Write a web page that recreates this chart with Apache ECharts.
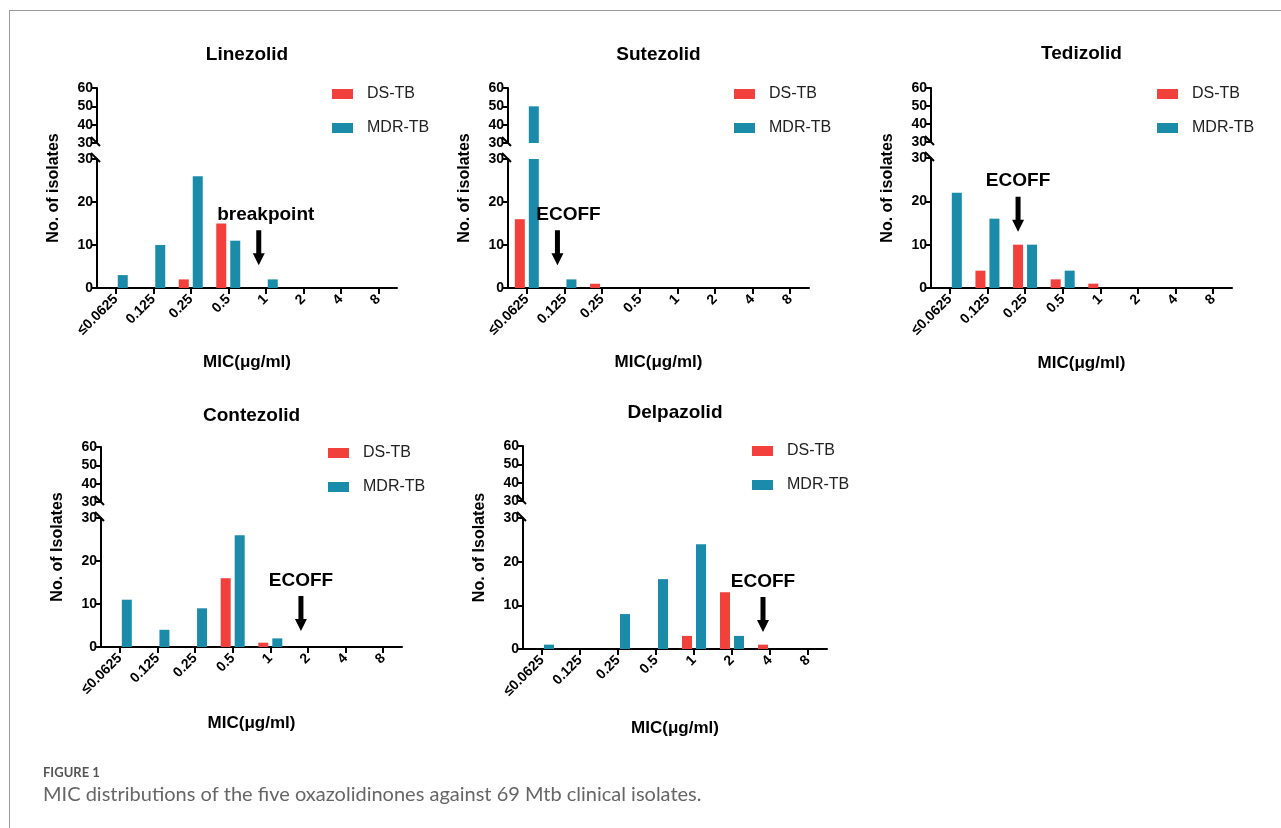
<!DOCTYPE html>
<html>
<head>
<meta charset="utf-8">
<script src="https://cdn.jsdelivr.net/npm/echarts@6/dist/echarts.min.js"></script>
<style>
    html, body { margin: 0; padding: 0; background: #fff; }
    #chart { width: 1281px; height: 828px; }
    .frame {
        position: absolute; left: 9px; top: 10px; right: 0; bottom: 0;
        border-top: 1px solid #999; border-left: 1px solid #999;
        pointer-events: none;
    }
</style>
</head>
<body>
<div id="chart"></div>
<div class="frame"></div>
<script>
    // MIC categories (x axis)
    const categories = ['≤0.0625', '0.125', '0.25', '0.5', '1', '2', '4', '8'];
    const drugs = ['Linezolid', 'Sutezolid', 'Tedizolid', 'Contezolid', 'Delpazolid'];

    // number of isolates per MIC
    const dsLinezolid = [0, 0, 2, 15, 0, 0, 0, 0];
    const mdrLinezolid = [3, 10, 26, 11, 2, 0, 0, 0];
    const dsSutezolid = [16, 0, 1, 0, 0, 0, 0, 0];
    const mdrSutezolid = [50, 2, 0, 0, 0, 0, 0, 0];
    const dsTedizolid = [0, 4, 10, 2, 1, 0, 0, 0];
    const mdrTedizolid = [22, 16, 10, 4, 0, 0, 0, 0];
    const dsContezolid = [0, 0, 0, 16, 1, 0, 0, 0];
    const mdrContezolid = [11, 4, 9, 26, 2, 0, 0, 0];
    const dsDelpazolid = [0, 0, 0, 0, 3, 13, 1, 0];
    const mdrDelpazolid = [1, 0, 8, 16, 24, 3, 0, 0];

    // broken y axis: lower part 0-30, upper part 30-60
    const lowerRange = [0, 30];
    const upperRange = [30, 60];
    const yStep = 10;

    // cut-off arrows
    const cutoffCats = ['1', '0.125', '0.25', '2', '4'];
    const cutoffNames = ['breakpoint', 'ECOFF', 'ECOFF', 'ECOFF', 'ECOFF'];
    const cutoffTips = [5.3, 5.3, 13, 3.7, 3.9];

    const yNames = ['No. of isolates', 'No. of isolates', 'No. of isolates', 'No. of Isolates', 'No. of Isolates'];
    const xName = 'MIC(μg/ml)';
    const seriesNames = ['DS-TB', 'MDR-TB'];

    const dsData = [dsLinezolid, dsSutezolid, dsTedizolid, dsContezolid, dsDelpazolid];
    const mdrData = [mdrLinezolid, mdrSutezolid, mdrTedizolid, mdrContezolid, mdrDelpazolid];

    // panel layout (pixels)
    const panels = [
        {left: 97, right: 397, upTop: 88, upBot: 143, lowTop: 159, lowBot: 288, legX: 332, legY: 86, titleY: 45, nameGap: 66, labelDx: 7},
        {left: 508, right: 809, upTop: 88, upBot: 143, lowTop: 159, lowBot: 288, legX: 734, legY: 86, titleY: 45, nameGap: 66, labelDx: 11},
        {left: 931, right: 1232, upTop: 88, upBot: 142, lowTop: 158, lowBot: 288, legX: 1157, legY: 86, titleY: 44, nameGap: 67, labelDx: 0},
        {left: 101, right: 402, upTop: 447, upBot: 502, lowTop: 518, lowBot: 647, legX: 328, legY: 445, titleY: 406, nameGap: 68, labelDx: 0},
        {left: 523, right: 827, upTop: 446, upBot: 501, lowTop: 518, lowBot: 649, legX: 752, legY: 443, titleY: 403, nameGap: 71, labelDx: 0}
    ];

    const red = '#f2403d';
    const teal = '#1a8ca9';
    const font = 'Liberation Sans, Arial, sans-serif';
    const arrowPath = 'path://M3.5,0 L8.5,0 L8.5,23 L12,23 L6,35 L0,23 L3.5,23 Z';

    const chart = echarts.init(document.getElementById('chart'));

    let grid = [], xAxis = [], yAxis = [], series = [], title = [], legend = [], graphic = [];

    const axisLine = {show: true, lineStyle: {color: '#000', width: 2}};
    const axisTick = {show: true, length: 5, lineStyle: {color: '#000', width: 2}};
    const yLabel = {color: '#000', fontSize: 14, fontWeight: 'bold', fontFamily: font, margin: 4};

    panels.forEach((p, i) => {
        const w = p.right - p.left;
        const lo = i * 2, up = i * 2 + 1;
        grid.push({left: p.left, width: w, top: p.lowTop, height: p.lowBot - p.lowTop, outerBoundsMode: 'none'});
        grid.push({left: p.left, width: w, top: p.upTop, height: p.upBot - p.upTop, outerBoundsMode: 'none'});

        xAxis.push({
            type: 'category', gridIndex: lo, data: categories,
            axisLine: axisLine,
            axisTick: {show: true, alignWithLabel: true, length: 6, lineStyle: {color: '#000', width: 2}},
            axisLabel: {rotate: 45, interval: 0, margin: 9, color: '#000', fontSize: 14, fontWeight: 'bold', fontFamily: font},
            name: xName, nameLocation: 'middle', nameGap: p.nameGap,
            nameTextStyle: {color: '#000', fontSize: 17, fontWeight: 'bold', fontFamily: font}
        });
        xAxis.push({type: 'category', gridIndex: up, data: categories, show: false});

        yAxis.push({
            type: 'value', gridIndex: lo, min: lowerRange[0], max: lowerRange[1], interval: yStep,
            axisLine: axisLine, axisTick: axisTick, axisLabel: yLabel, splitLine: {show: false}
        });
        yAxis.push({
            type: 'value', gridIndex: up, min: upperRange[0], max: upperRange[1], interval: yStep,
            axisLine: axisLine, axisTick: axisTick, axisLabel: yLabel, splitLine: {show: false}
        });

        const bar = {type: 'bar', barWidth: 10, barGap: '40%', clip: true, silent: true, animation: false};
        series.push(Object.assign({}, bar, {
            name: seriesNames[0], xAxisIndex: lo, yAxisIndex: lo, data: dsData[i], itemStyle: {color: red},
            markPoint: {
                symbol: arrowPath, symbolSize: [12, 35], symbolOffset: [0, '-50%'],
                itemStyle: {color: '#000'}, silent: true, animation: false,
                label: {
                    show: true, position: 'top', distance: 6, offset: [p.labelDx, 0],
                    formatter: cutoffNames[i], color: '#000', fontSize: 19, fontWeight: 'bold', fontFamily: font
                },
                data: [{coord: [cutoffCats[i], cutoffTips[i]]}]
            }
        }));
        series.push(Object.assign({}, bar, {
            name: seriesNames[1], xAxisIndex: lo, yAxisIndex: lo, data: mdrData[i], itemStyle: {color: teal}
        }));
        // part of the bars above the break
        series.push(Object.assign({}, bar, {
            name: seriesNames[0], xAxisIndex: up, yAxisIndex: up, itemStyle: {color: red},
            data: dsData[i].map(v => v > lowerRange[1] ? v : '-')
        }));
        series.push(Object.assign({}, bar, {
            name: seriesNames[1], xAxisIndex: up, yAxisIndex: up, itemStyle: {color: teal},
            data: mdrData[i].map(v => v > lowerRange[1] ? v : '-')
        }));

        title.push({
            text: drugs[i], left: p.left + w / 2, top: p.titleY, textAlign: 'center', padding: 0,
            textStyle: {color: '#000', fontSize: 19, fontWeight: 'bold', fontFamily: font}
        });

        legend.push({
            data: seriesNames, orient: 'vertical', left: p.legX, top: p.legY, padding: 0,
            icon: 'rect', itemWidth: 21, itemHeight: 10, itemGap: 18, selectedMode: false,
            textStyle: {color: '#222', fontSize: 16, fontFamily: font, padding: [0, 0, 0, 9]}
        });

        // y axis name across both parts
        graphic.push({
            type: 'text', x: p.left - 43, y: (p.upTop + p.lowBot) / 2, rotation: Math.PI / 2,
            style: {
                text: yNames[i], fill: '#000', font: 'bold 16px ' + font,
                textAlign: 'center', textVerticalAlign: 'middle'
            }
        });
        // break marks
        [p.upBot, p.lowTop].forEach(y => {
            graphic.push({
                type: 'line', shape: {x1: p.left - 6, y1: y - 6, x2: p.left + 3, y2: y + 3},
                style: {stroke: '#000', lineWidth: 2}
            });
        });
    });

    graphic.push({
        type: 'text', left: 43, top: 766,
        style: {text: 'FIGURE 1', fill: '#555', font: 'bold 13px Lato, sans-serif'}
    });
    graphic.push({
        type: 'text', left: 43, top: 785,
        style: {text: 'MIC distributions of the five oxazolidinones against 69 Mtb clinical isolates.', fill: '#666', font: '20px Lato, sans-serif'}
    });

    chart.setOption({
        animation: false,
        backgroundColor: '#fff',
        title: title,
        legend: legend,
        grid: grid,
        xAxis: xAxis,
        yAxis: yAxis,
        series: series,
        graphic: graphic
    });
</script>
</body>
</html>
